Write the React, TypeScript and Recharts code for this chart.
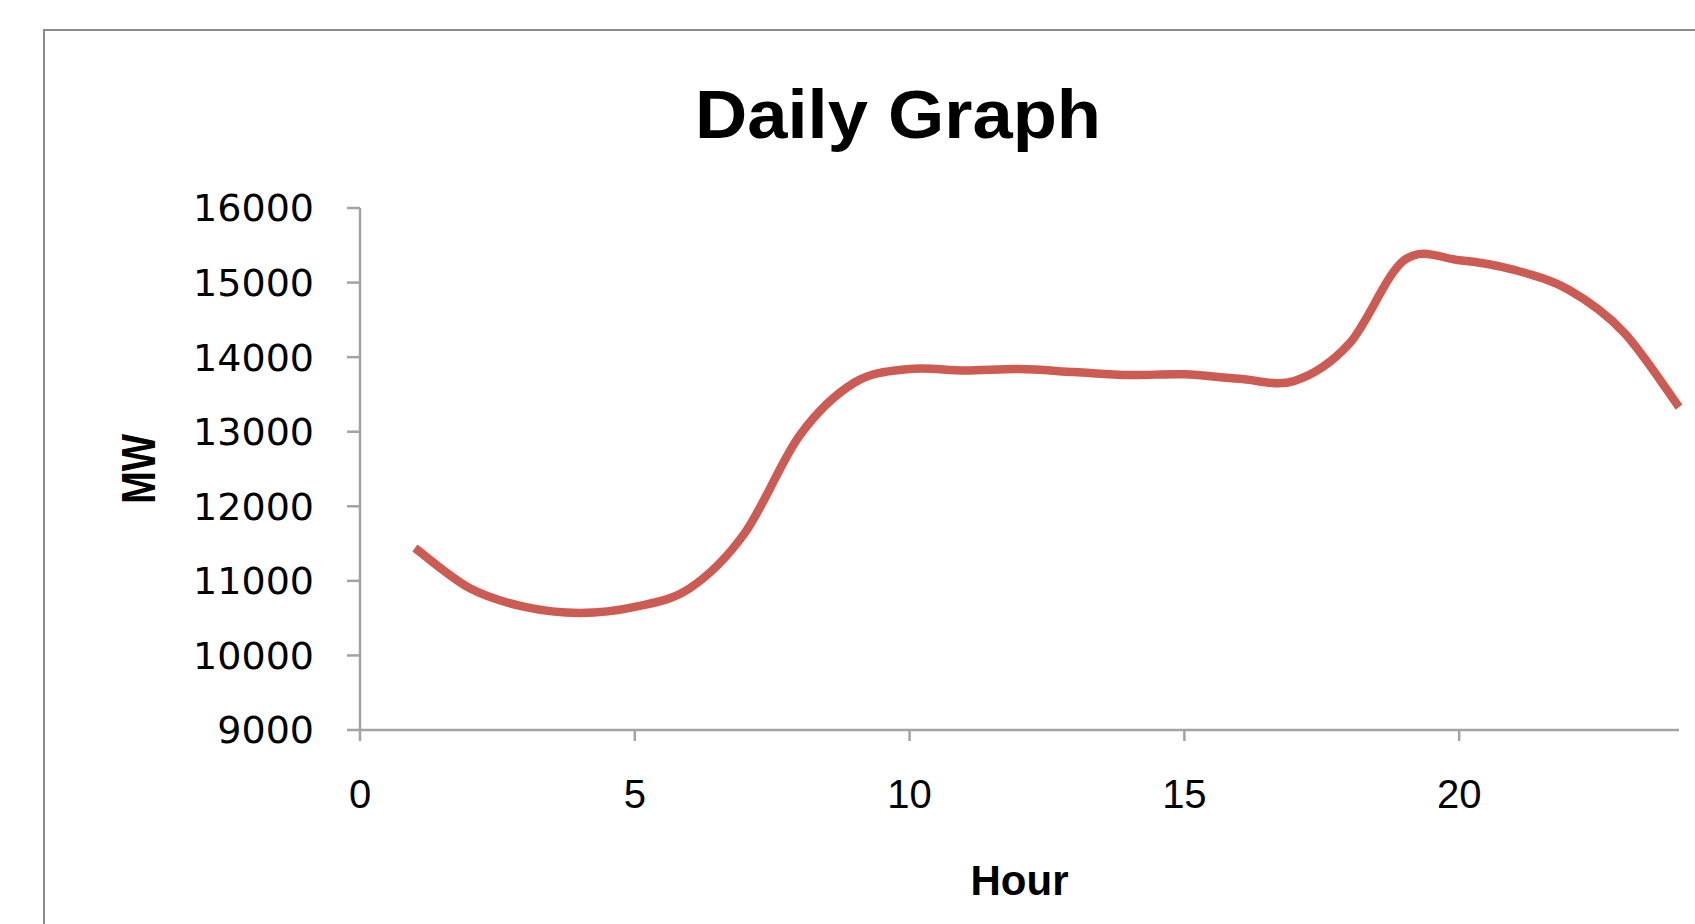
import React from 'react';
import { LineChart, Line, XAxis, YAxis } from 'recharts';

const hours = [1, 2, 3, 4, 5, 6, 7, 8, 9, 10, 11, 12, 13, 14, 15, 16, 17, 18, 19, 20, 21, 22, 23, 24];
const mw = [11440, 10900, 10650, 10570, 10650, 10900, 11640, 12950, 13660, 13840, 13820, 13840, 13800, 13760, 13770, 13710, 13680, 14180, 15300, 15300, 15170, 14900, 14330, 13330];
const xTicks = [0, 5, 10, 15, 20];
const yTicks = [9000, 10000, 11000, 12000, 13000, 14000, 15000, 16000];
const titleText = 'Daily Graph';
const xLabelText = 'Hour';
const yLabelText = 'MW';

const data = hours.map((h, i) => ({ hour: h, mw: mw[i] }));

// Excel-style smoothed line (uniform Catmull-Rom)
const smoothCurve: any = (context: any) => {
  let pts: number[][] = [];
  return {
    areaStart() {},
    areaEnd() {},
    lineStart() {
      pts = [];
    },
    point(x: number, y: number) {
      pts.push([+x, +y]);
    },
    lineEnd() {
      if (!pts.length) return;
      context.moveTo(pts[0][0], pts[0][1]);
      for (let i = 0; i < pts.length - 1; i++) {
        const p0 = pts[i - 1] || pts[i];
        const p1 = pts[i];
        const p2 = pts[i + 1];
        const p3 = pts[i + 2] || pts[i + 1];
        const c1x = p1[0] + (p2[0] - p0[0]) / 6;
        const c1y = p1[1] + (p2[1] - p0[1]) / 6;
        const c2x = p2[0] - (p3[0] - p1[0]) / 6;
        const c2y = p2[1] - (p3[1] - p1[1]) / 6;
        context.bezierCurveTo(c1x, c1y, c2x, c2y, p2[0], p2[1]);
      }
    },
  };
};

const axisColor = '#a3a3a3';

const XLabel = (props: any) => {
  const vb = props.viewBox || {};
  return (
    <text
      x={vb.x + vb.width / 2}
      y={vb.y + 165}
      textAnchor="middle"
      fontFamily="'Liberation Sans', Arial, sans-serif"
      fontWeight="bold"
      fontSize={42}
      fill="#000"
    >
      {xLabelText}
    </text>
  );
};

const YLabel = (props: any) => {
  const vb = props.viewBox || {};
  const x = vb.x + 55;
  const y = vb.y + vb.height / 2;
  return (
    <text
      x={x}
      y={y}
      transform={`rotate(-90 ${x} ${y})`}
      textAnchor="middle"
      fontFamily="'Liberation Sans', Arial, sans-serif"
      fontWeight="bold"
      fontSize={48}
      textLength={70}
      lengthAdjust="spacingAndGlyphs"
      fill="#000"
    >
      {yLabelText}
    </text>
  );
};

export default function App() {
  return (
    <div style={{ position: 'fixed', left: 0, top: 0, width: 1695, height: 924, overflow: 'hidden', background: '#fff' }}>
      <div
        style={{
          position: 'absolute',
          left: 43,
          top: 29,
          width: 1720,
          height: 1000,
          border: '2px solid #8c8c8c',
          boxSizing: 'border-box',
        }}
      />
      <div style={{ position: 'absolute', left: 0, top: 0 }}>
        <LineChart width={1695} height={924} data={data} margin={{ top: 208, right: 16, bottom: 0, left: 100 }}>
          <XAxis
            type="number"
            dataKey="hour"
            domain={[0, 24]}
            ticks={xTicks}
            height={194}
            tickSize={11}
            tickMargin={39}
            axisLine={{ stroke: axisColor, strokeWidth: 2.5 }}
            tickLine={{ stroke: axisColor, strokeWidth: 2.5 }}
            tick={{ fill: '#000', fontSize: 40, fontFamily: "'Liberation Sans', Arial, sans-serif" }}
            label={<XLabel />}
          />
          <YAxis
            type="number"
            domain={[9000, 16000]}
            ticks={yTicks}
            width={260}
            tickSize={13}
            tickMargin={33}
            axisLine={{ stroke: axisColor, strokeWidth: 2.5 }}
            tickLine={{ stroke: axisColor, strokeWidth: 2.5 }}
            tick={{ fill: '#000', fontSize: 38, fontFamily: "'DejaVu Sans', sans-serif" }}
            label={<YLabel />}
          />
          <Line
            type={smoothCurve}
            dataKey="mw"
            stroke="#CB5B53"
            strokeWidth={8.5}
            dot={false}
            activeDot={false}
            isAnimationActive={false}
          />
        </LineChart>
      </div>
      <svg width={1695} height={200} style={{ position: 'absolute', left: 0, top: 0, pointerEvents: 'none' }}>
        <text
          x={898}
          y={138}
          textAnchor="middle"
          fontFamily="'Liberation Sans', Arial, sans-serif"
          fontWeight="bold"
          fontSize={68}
          textLength={406}
          lengthAdjust="spacingAndGlyphs"
          fill="#000"
        >
          {titleText}
        </text>
      </svg>
    </div>
  );
}
